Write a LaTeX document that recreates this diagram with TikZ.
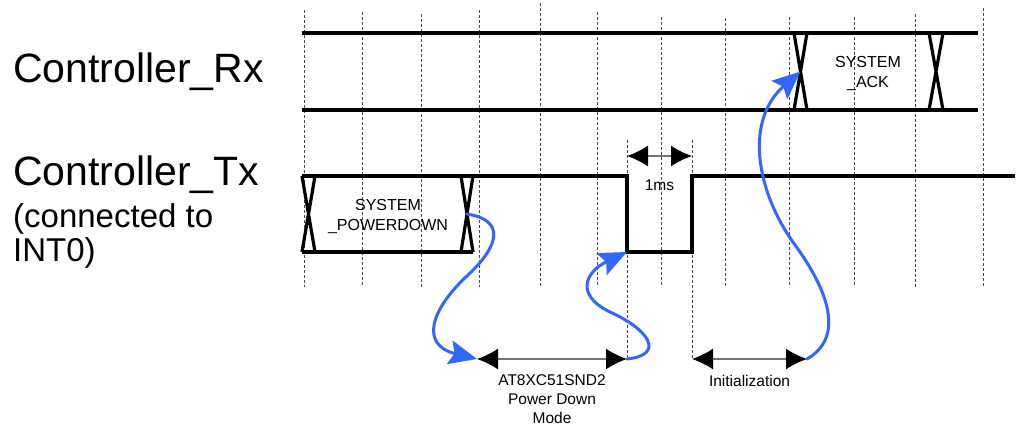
\documentclass[tikz,border=0pt]{standalone}
\usepackage{fontspec}
\setmainfont{Liberation Sans}
\usetikzlibrary{positioning, arrows.meta}
\definecolor{hopblue}{RGB}{51,102,255}

\tikzset{
	sig/.style={line width=3.2pt},
	grid/.style={dash pattern=on 3pt off 2pt, line width=0.8pt, black!70},
	span/.style={{Latex[length=21pt,width=21pt,color=black]}-{Latex[length=21pt,width=21pt,color=black]}, line width=1.3pt, draw=black!55},
	hop/.style={-{Stealth[length=28pt,width=24pt,inset=5pt]}, line width=3pt, hopblue, line cap=round},
	big/.style={font=\fontsize{41}{48}\selectfont, inner sep=0pt, anchor=base west},
	mid/.style={font=\fontsize{33}{33}\selectfont, inner sep=0pt, anchor=base west, align=left},
	lbl/.style={font=\fontsize{16}{20}\selectfont, inner sep=0pt, align=center},
	sml/.style={font=\fontsize{15.5}{19}\selectfont, inner sep=0pt, align=center}
}

\begin{document}
\begin{tikzpicture}[x=1pt, y=-1pt]
	\useasboundingbox (0,0) rectangle (1024,430);

	\foreach \x/\t in {304/10,362/12,421/14,479/10,540/3,597/12,661/17,725/18,789/17,854/17,915/14,983/8}
		\draw[grid] (\x,\t) -- (\x,287);
	\draw[grid] (627,140) -- (627,360);
	\draw[grid] (692,140) -- (692,360);

	\node[big] (rx) at (13,83) {Controller\_Rx};
	\node[big] (tx) at (13,186) {Controller\_Tx};
	\node[mid] (int) at (13,261) {(connected to\\INT0)};

	\coordinate (ackx) at (800.5,71.5);
	\coordinate (pdx) at (467,214);
	\coordinate (fall) at (627,252);
	\coordinate (p0) at (477,359);
	\coordinate (p1) at (627,359);
	\coordinate (i0) at (692,359);
	\coordinate (i1) at (807,359);
	\coordinate (m0) at (627,156);
	\coordinate (m1) at (692,156);

	\draw[sig] (302,33) -- (978,33);
	\draw[sig] (302,110) -- (978,110);
	\draw[sig] (794,33) -- (807,110) (807,33) -- (794,110);
	\draw[sig] (929,33) -- (943,110) (943,33) -- (929,110);
	\node[lbl, anchor=base] (ack) at (868,88) {SYSTEM\\\_ACK};

	\draw[sig] (302,176) -- (627,176) -- (fall) -- (692,252) -- (692,176) -- (1015,176);
	\draw[sig] (302,252) -- (473,252);
	\draw[sig] (302,176) -- (315,252) (315,176) -- (302,252);
	\draw[sig] (461,176) -- (473,252) (473,176) -- (461,252);
	\node[lbl, anchor=base] (pd) at (388,230) {SYSTEM\\\_POWERDOWN};

	\draw[span] (m0) -- node[sml, below=23pt] (ms) {1ms} (m1);
	\draw[span] (p0) -- node[sml, below=15pt] (pdm) {AT8XC51SND2\\Power Down\\Mode} (p1);
	\draw[span] (i0) -- node[sml, below=16pt] (ini) {Initialization} (i1);

	\draw[hop] (pdx) .. controls (505,220) and (500,245) .. (468,275) .. controls (430,310) and (420,345) .. (p0);
	\draw[hop] (p1) .. controls (665,355) and (650,330) .. (610,312) .. controls (575,295) and (585,272) .. (fall);
	\draw[hop] (i1) .. controls (840,340) and (835,300) .. (795,245) .. controls (755,190) and (745,120) .. (ackx);
\end{tikzpicture}
\end{document}
